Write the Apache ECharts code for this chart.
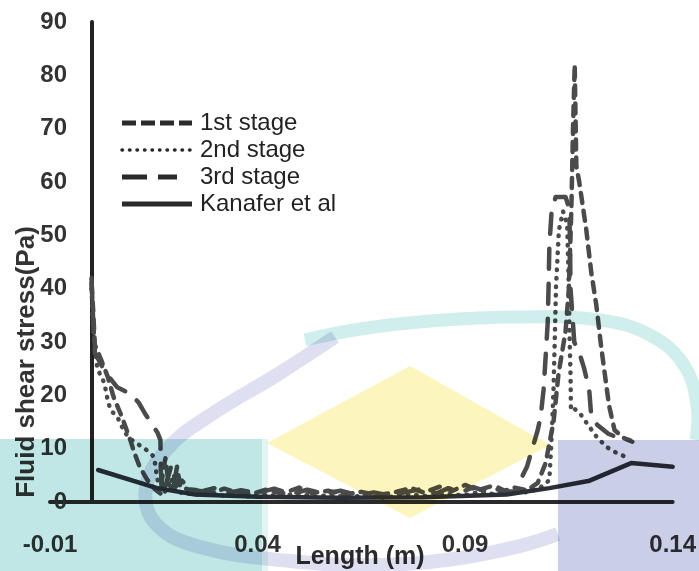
<!DOCTYPE html>
<html>
<head>
<meta charset="utf-8">
<script src="https://cdn.jsdelivr.net/npm/echarts@6/dist/echarts.min.js"></script>
<style>
  html, body { margin: 0; padding: 0; background: #ffffff; }
  #chart { width: 699px; height: 571px; }
</style>
</head>
<body>
<div id="chart"></div>
<script>
// Fluid shear stress along the channel length (m)
const stage1X = [0.0, 0.0004, 0.0008, 0.0024, 0.0039, 0.0054, 0.0074, 0.0094, 0.0102, 0.0116, 0.0134, 0.0154, 0.0166, 0.0172, 0.0178, 0.0186, 0.0197, 0.0206, 0.0214, 0.0232, 0.0260, 0.0290, 0.0320, 0.0350, 0.0385, 0.0420, 0.0460, 0.0500, 0.0530, 0.0570, 0.0610, 0.0650, 0.0690, 0.0730, 0.0770, 0.0800, 0.0840, 0.0870, 0.0900, 0.0930, 0.0960, 0.0990, 0.1020, 0.1050, 0.1075, 0.1094, 0.1113, 0.1125, 0.1142, 0.1150, 0.1156, 0.1160, 0.1164, 0.1168, 0.1175, 0.1192, 0.1204, 0.1216, 0.1228, 0.1240, 0.1247, 0.1260, 0.1282, 0.1303];
const stage1Y = [41, 36, 29.5, 26.5, 23.5, 19.5, 15.8, 11.5, 9.5, 6.6, 4.2, 2.3, 1.6, 5.5, 8.2, 3.2, 2.6, 6.6, 2.8, 2.4, 2.2, 1.7, 2.5, 1.8, 1.5, 2.3, 1.6, 2.7, 1.7, 2.1, 1.4, 1.9, 1.3, 1.8, 2.6, 1.8, 2.9, 2.1, 3.2, 2.2, 2.9, 2.0, 2.7, 2.2, 3.6, 7.3, 15, 24, 32, 40, 55, 70, 82, 63, 60, 51, 43, 37, 29, 22, 18, 13.5, 12.0, 11.3];

const stage2X = [0.0, 0.0004, 0.0008, 0.0014, 0.0031, 0.0039, 0.0046, 0.0062, 0.0080, 0.0098, 0.0122, 0.0139, 0.0151, 0.0154, 0.0158, 0.0164, 0.0176, 0.0191, 0.0203, 0.0225, 0.0255, 0.0285, 0.0315, 0.0345, 0.0380, 0.0415, 0.0455, 0.0495, 0.0535, 0.0575, 0.0615, 0.0655, 0.0695, 0.0735, 0.0775, 0.0815, 0.0855, 0.0895, 0.0935, 0.0975, 0.1015, 0.1050, 0.1080, 0.1103, 0.1107, 0.1110, 0.1113, 0.1115, 0.1117, 0.1119, 0.1126, 0.1136, 0.1146, 0.1150, 0.1152, 0.1154, 0.1155, 0.1163, 0.1176, 0.1193, 0.1217, 0.1241, 0.1265, 0.1295];
const stage2Y = [40, 33, 29, 25, 22.3, 19.1, 17.2, 16, 13, 11.6, 10.3, 9.4, 8.4, 6.6, 4.7, 2.2, 1.8, 4.5, 2.0, 1.6, 1.4, 1.8, 1.2, 1.5, 1.0, 1.4, 1.1, 1.6, 1.0, 1.3, 0.9, 1.2, 0.8, 1.1, 1.4, 1.0, 1.6, 1.2, 1.9, 1.4, 2.0, 1.8, 2.6, 4.1, 9.75, 14.8, 21, 27.2, 33.6, 40.3, 51, 54.5, 52, 40, 30, 24, 17.2, 17.5, 16.7, 14.8, 12.2, 10.3, 9.2, 8.2];

const stage3X = [0.0, 0.0004, 0.0008, 0.0032, 0.0062, 0.0094, 0.0114, 0.0128, 0.0159, 0.0166, 0.0167, 0.0170, 0.0180, 0.0193, 0.0204, 0.0218, 0.0235, 0.0265, 0.0295, 0.0325, 0.0360, 0.0400, 0.0440, 0.0480, 0.0520, 0.0560, 0.0600, 0.0640, 0.0680, 0.0720, 0.0760, 0.0800, 0.0830, 0.0860, 0.0890, 0.0920, 0.0950, 0.0980, 0.1000, 0.1020, 0.1049, 0.1063, 0.1075, 0.1082, 0.1089, 0.1094, 0.1099, 0.1101, 0.1103, 0.1108, 0.1118, 0.1142, 0.1151, 0.1153, 0.1154, 0.1163, 0.1175, 0.1187, 0.1199, 0.1204, 0.1218, 0.1245, 0.1270, 0.1297];
const stage3Y = [42, 34, 28, 24.5, 21.5, 20.3, 18.6, 16.7, 13, 11.6, 6, 1.8, 3.5, 7.0, 3.0, 4.0, 2.4, 2.0, 2.6, 1.6, 2.2, 1.7, 2.5, 1.5, 2.3, 1.6, 2.1, 1.3, 1.8, 1.2, 1.9, 2.5, 1.6, 2.6, 1.8, 2.8, 2.0, 2.7, 1.9, 2.0, 6.6, 10.3, 13.5, 16, 21, 27.2, 33.6, 40, 48, 54, 57.2, 57.2, 55, 47, 40, 30, 28, 25, 21, 16, 14.5, 12.8, 12.0, 11.6];

const kanaferX = [0.0016, 0.0158, 0.0250, 0.0400, 0.0600, 0.0800, 0.1000, 0.1103, 0.1200, 0.1300, 0.1400];
const kanaferY = [6.0, 2.6, 1.4, 1.0, 0.8, 0.9, 1.4, 2.6, 4.0, 7.3, 6.6];

const seriesNames = ['1st stage', '2nd stage', '3rd stage', 'Kanafer et al'];
const yTicks = [0, 10, 20, 30, 40, 50, 60, 70, 80, 90];
const xTicks = ['-0.01', '0.04', '0.09', '0.14'];

const FONT = "'Liberation Sans', Arial, Helvetica, sans-serif";
const pairs = (xs, ys) => xs.map((x, i) => [x, ys[i]]);

// dash patterns shared by the curves and the key
const dashes = [[10, 8], [0.5, 8], [20, 15], null];
const keyDashes = [[14, 5], [0.5, 7], [25, 11], null];
const keyEnds = [192, 192, 177, 192];

// light print-through shapes laid over the plot
const MULT = 'multiply';
const overlay = [
  { type: 'rect', z: 100, silent: true, shape: { x: 0, y: 439, width: 262, height: 132 }, style: { fill: 'rgb(192,231,229)', blend: MULT } },
  { type: 'rect', z: 100, silent: true, shape: { x: 262, y: 439, width: 6, height: 132 }, style: { fill: 'rgb(228,244,242)', blend: MULT } },
  { type: 'rect', z: 100, silent: true, shape: { x: 558, y: 440, width: 141, height: 131 }, style: { fill: 'rgb(202,206,231)', blend: MULT } },
  { type: 'polygon', z: 100, silent: true, shape: { points: [[267, 443], [410, 366], [550, 445], [410, 518]] }, style: { fill: 'rgb(253,245,190)', blend: MULT } },
  { type: 'polyline', z: 100, silent: true, shape: { smooth: 0.4, points: [[305, 340], [360, 329], [430, 321], [520, 317], [600, 320], [650, 335], [684, 365], [697, 405], [696, 440]] }, style: { stroke: 'rgb(208,238,236)', lineWidth: 13, fill: null, blend: MULT } },
  { type: 'polyline', z: 100, silent: true, shape: { smooth: 0.4, points: [[335, 337], [275, 376], [212, 414], [168, 448], [146, 488], [156, 524], [200, 547], [290, 561], [380, 565], [460, 558], [520, 546], [558, 534]] }, style: { stroke: 'rgb(222,224,242)', lineWidth: 14, fill: null, blend: MULT } }
];

const titles = [
  { type: 'text', z: 90, silent: true, x: 27, y: 362, rotation: Math.PI / 2, style: { text: 'Fluid shear stress(Pa)', font: 'bold 26px ' + FONT, fill: '#333', align: 'center', verticalAlign: 'middle' } },
  { type: 'text', z: 90, silent: true, x: 360, y: 557, style: { text: 'Length (m)', font: 'bold 25px ' + FONT, fill: '#2b2b2b', align: 'center', verticalAlign: 'middle' } }
];

// key: sample line and name for each curve
const key = [];
seriesNames.forEach((name, i) => {
  const cy = 123 + i * 27;
  key.push({
    type: 'line', z: 90, silent: true,
    shape: { x1: 122, y1: cy, x2: keyEnds[i], y2: cy },
    style: { stroke: '#2a2a2a', lineWidth: i === 1 ? 3.5 : 5, lineCap: i === 1 ? 'round' : 'butt', lineDash: keyDashes[i] || null }
  });
  key.push({
    type: 'text', z: 90, silent: true, x: 200, y: cy,
    style: { text: name, font: '24px ' + FONT, fill: '#222', align: 'left', verticalAlign: 'middle' }
  });
});

const chart = echarts.init(document.getElementById('chart'), null, { renderer: 'canvas' });
const lineColor = '#4b4b4b';

const stageSeries = [[stage1X, stage1Y], [stage2X, stage2Y], [stage3X, stage3Y]].map((d, i) => ({
  name: seriesNames[i], type: 'line', symbol: 'none', z: 3,
  data: pairs(d[0], d[1]),
  lineStyle: { color: lineColor, width: 4.5, type: dashes[i], cap: 'round', join: 'round' },
  itemStyle: { color: lineColor }
}));

chart.setOption({
  animation: false,
  backgroundColor: '#ffffff',
  grid: { left: 50, right: 26, top: 22, bottom: 69, containLabel: false },
  xAxis: {
    type: 'value',
    min: -0.01,
    max: 0.14,
    interval: 0.05,
    axisLine: { show: true, onZero: false, lineStyle: { color: '#2a2a2a', width: 4 } },
    axisTick: { show: false },
    splitLine: { show: false },
    axisLabel: {
      margin: 31,
      showMinLabel: true,
      showMaxLabel: true,
      fontSize: 24,
      fontWeight: 'bold',
      fontFamily: FONT,
      color: '#333',
      formatter: v => {
        const s = v.toFixed(2);
        return xTicks.indexOf(s) >= 0 ? s : '';
      }
    }
  },
  yAxis: {
    type: 'value',
    min: yTicks[0],
    max: yTicks[yTicks.length - 1],
    interval: 10,
    axisLine: { show: true, onZero: true, lineStyle: { color: '#222', width: 4 } },
    axisTick: { show: false },
    splitLine: { show: false },
    axisLabel: { margin: -17, fontSize: 24, fontWeight: 'bold', fontFamily: FONT, color: '#333' }
  },
  graphic: overlay.concat(titles, key),
  series: stageSeries.concat([{
    name: seriesNames[3], type: 'line', symbol: 'none', z: 4,
    data: pairs(kanaferX, kanaferY),
    lineStyle: { color: '#2c2f36', width: 4.5, type: 'solid', cap: 'round', join: 'round' },
    itemStyle: { color: '#2c2f36' }
  }])
});
</script>
</body>
</html>
